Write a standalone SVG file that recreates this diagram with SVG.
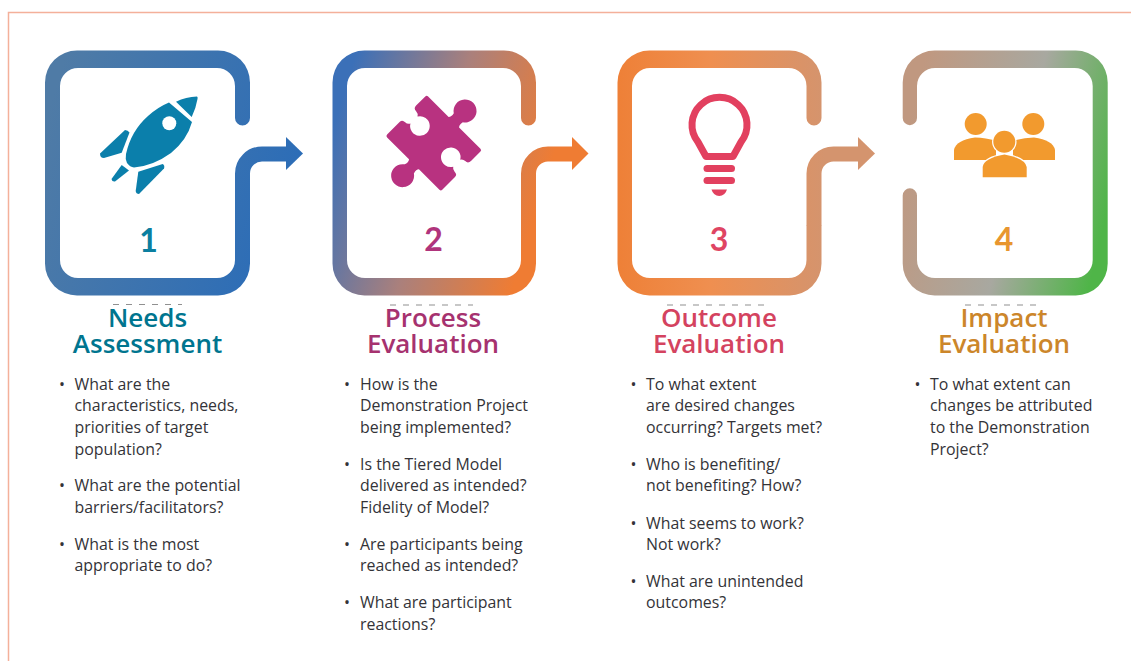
<svg xmlns="http://www.w3.org/2000/svg" width="1131" height="661" viewBox="0 0 1131 661">
<style>
.conn{fill:none;stroke-width:15}
.t{font-family:"Open Sans","Noto Sans","Liberation Sans",sans-serif;font-size:26px;font-weight:600;text-anchor:middle}
.n{font-family:"Lato","Open Sans","Liberation Sans",sans-serif;font-size:32px;font-weight:700;text-anchor:middle}
.b{font-family:"Open Sans","Noto Sans","Liberation Sans",sans-serif;font-size:15.9px;fill:#333338}
.speck{fill:none;stroke:#222;stroke-width:1;stroke-dasharray:6 7;stroke-opacity:.5}
</style>
<defs>
<linearGradient id="g1" gradientUnits="userSpaceOnUse" x1="45" y1="120" x2="305" y2="200"><stop offset="0" stop-color="#4f7ba6"/><stop offset="1" stop-color="#2a6cb8"/></linearGradient>
<linearGradient id="g2" gradientUnits="userSpaceOnUse" x1="335" y1="120" x2="545" y2="185"><stop offset="0" stop-color="#3b70b8"/><stop offset=".5" stop-color="#aa807c"/><stop offset="1" stop-color="#ef7c33"/></linearGradient>
<linearGradient id="g3" gradientUnits="userSpaceOnUse" x1="617" y1="170" x2="825" y2="170"><stop offset="0" stop-color="#ee8037"/><stop offset=".45" stop-color="#ef8f50"/><stop offset="1" stop-color="#d4946e"/></linearGradient>
<linearGradient id="g4" gradientUnits="userSpaceOnUse" x1="902" y1="150" x2="1110" y2="200"><stop offset="0" stop-color="#c09880"/><stop offset=".55" stop-color="#a8a8a0"/><stop offset="1" stop-color="#4fb548"/></linearGradient>
</defs>
<rect width="1131" height="661" fill="#fff"/>
<path d="M1131,12.500H8.500V661" fill="none" stroke="#f4b09a" stroke-width="1.500"/>

<g id="connectors">
<path class="conn" stroke="url(#g1)" d="M242.500,225.500V173.500A19.500,19.500 0 0 1 262,154H288"/><polygon fill="url(#g1)" points="286,137 303,153.500 286,170"/>
<path class="conn" stroke="url(#g2)" d="M528.500,225.500V173.500A19.500,19.500 0 0 1 548,154H574"/><polygon fill="url(#g2)" points="572,137 588.500,153.500 572,170"/>
<path class="conn" stroke="url(#g3)" d="M814,225.500V173.500A19.500,19.500 0 0 1 833.500,154H860"/><polygon fill="url(#g3)" points="858,137 875,153.500 858,170"/>
</g>

<g id="node1">
<path fill="url(#g1)" d="M235,118V86A18,18 0 0 0 217,68H78A18,18 0 0 0 60,86V260A18,18 0 0 0 78,278H217A18,18 0 0 0 235,260V225H250V263.500A32,32 0 0 1 218,295.500H77A32,32 0 0 1 45,263.500V82.500A32,32 0 0 1 77,50.500H218A32,32 0 0 1 250,82.500V118A7.500,7.500 0 0 1 235,118Z"/>
<g fill="#0b7fab">
<path d="M169,102.500L192,122Q187,140 171,153Q153,166 134,167.500Q130,167 127,163Q125,159 126,154Q131,131 148,116Q158,107 169,102.500Z"/>
<path d="M176,101.700Q186,97 197,96.500Q198,97 197.500,99Q196,108 191.700,117Z"/>
<path d="M125,130Q128,130 129.500,132.500L121.700,152.700L104,158Q100,158 100,153.500Z"/>
<path d="M121.700,165L129,170.500L115,181.500Q112,182 111.500,179Z"/>
<path d="M162.700,164Q165,165 164,168.500L139,194Q136,194 135.700,191L138.300,171.700Z"/>
</g>
<circle cx="169.300" cy="123.300" r="7" fill="#fff"/>
<text class="n" x="148.500" y="251.500" fill="#0b7fa0">1</text>
<path class="speck" d="M113,304.500H182"/>
<text class="t" x="147.500" y="327" fill="#00758f">Needs</text>
<text class="t" x="147.500" y="353" fill="#00758f">Assessment</text>
<text class="b" x="59" y="389.500">•</text><text class="b" x="74.500" y="389.500">What are the</text>
<text class="b" x="74.500" y="411">characteristics, needs,</text>
<text class="b" x="74.500" y="433">priorities of target</text>
<text class="b" x="74.500" y="454.500">population?</text>
<text class="b" x="59" y="491">•</text><text class="b" x="74.500" y="491">What are the potential</text>
<text class="b" x="74.500" y="512.500">barriers/facilitators?</text>
<text class="b" x="59" y="550">•</text><text class="b" x="74.500" y="550">What is the most</text>
<text class="b" x="74.500" y="571">appropriate to do?</text>
</g>

<g id="node2">
<path fill="url(#g2)" d="M521,118V86A18,18 0 0 0 503,68H365A18,18 0 0 0 347,86V260A18,18 0 0 0 365,278H503A18,18 0 0 0 521,260V225H536V263.500A32,32 0 0 1 504,295.500H364.500A32,32 0 0 1 332.500,263.500V82.500A32,32 0 0 1 364.500,50.500H504A32,32 0 0 1 536,82.500V118A7.500,7.500 0 0 1 521,118Z"/>
<path transform="translate(426.700,95) rotate(45)" fill="#b83280" d="M2,0H31Q33,-2 32,-6.300A11.500,11.500 0 1 1 44.800,-6.300Q43.800,-2 45.800,0H76Q78,0 78,2V15Q78,19.500 74,19.500Q71,19.500 69.500,22A9.800,9.800 0 1 0 69.500,32Q71,34.500 74,34.500Q78,34.500 78,38V56Q78,58 76,58H47Q45,60 46.400,64.500A11.500,11.500 0 1 1 33.600,64.500Q35,60 33,58H2Q0,58 0,56V38Q0,34.500 4,34.500Q7,34.500 8.700,31.700A9.800,9.800 0 1 0 8.700,21.700Q7,19 4,19Q0,19 0,15V2Q0,0 2,0Z"/>
<text class="n" x="433.500" y="251" fill="#b0347c">2</text>
<path class="speck" d="M390,305H473"/>
<text class="t" x="433" y="327" fill="#a6326f">Process</text>
<text class="t" x="433" y="353" fill="#a6326f">Evaluation</text>
<text class="b" x="344" y="389.500">•</text><text class="b" x="360" y="389.500">How is the</text>
<text class="b" x="360" y="411">Demonstration Project</text>
<text class="b" x="360" y="433">being implemented?</text>
<text class="b" x="344" y="469.500">•</text><text class="b" x="360" y="469.500">Is the Tiered Model</text>
<text class="b" x="360" y="491">delivered as intended?</text>
<text class="b" x="360" y="512.500">Fidelity of Model?</text>
<text class="b" x="344" y="550">•</text><text class="b" x="360" y="550">Are participants being</text>
<text class="b" x="360" y="571">reached as intended?</text>
<text class="b" x="344" y="608">•</text><text class="b" x="360" y="608">What are participant</text>
<text class="b" x="360" y="629.500">reactions?</text>
</g>

<g id="node3">
<path fill="url(#g3)" d="M806.500,118V86A18,18 0 0 0 788.500,68H650A18,18 0 0 0 632,86V260A18,18 0 0 0 650,278H788.500A18,18 0 0 0 806.500,260V225H821.500V263.500A32,32 0 0 1 789.500,295.500H649.500A32,32 0 0 1 617.500,263.500V82.500A32,32 0 0 1 649.500,50.500H789.500A32,32 0 0 1 821.500,82.500V118A7.500,7.500 0 0 1 806.500,118Z"/>
<path d="M706,156.500L698,142A27.500,27.500 0 1 1 741,142L733,156.500Z" fill="none" stroke="#e2405f" stroke-width="7" stroke-linejoin="round"/>
<g fill="#e2405f">
<rect x="703.500" y="165" width="31.500" height="7" rx="3.500"/>
<rect x="703.500" y="177" width="31.500" height="7" rx="3.500"/>
<path d="M711.500,189.500H727Q725,196 719.200,196Q713.500,196 711.500,189.500Z"/>
</g>
<text class="n" x="719" y="251" fill="#df4563">3</text>
<path class="speck" d="M667,305H767"/>
<text class="t" x="719" y="327" fill="#d4435f">Outcome</text>
<text class="t" x="719" y="353" fill="#d4435f">Evaluation</text>
<text class="b" x="630.500" y="389.500">•</text><text class="b" x="646" y="389.500">To what extent</text>
<text class="b" x="646" y="411">are desired changes</text>
<text class="b" x="646" y="433">occurring? Targets met?</text>
<text class="b" x="630.500" y="469.500">•</text><text class="b" x="646" y="469.500">Who is benefiting/</text>
<text class="b" x="646" y="491">not benefiting? How?</text>
<text class="b" x="630.500" y="528.500">•</text><text class="b" x="646" y="528.500">What seems to work?</text>
<text class="b" x="646" y="550">Not work?</text>
<text class="b" x="630.500" y="586.500">•</text><text class="b" x="646" y="586.500">What are unintended</text>
<text class="b" x="646" y="608">outcomes?</text>
</g>

<g id="node4">
<path fill="url(#g4)" d="M917,118V86A18,18 0 0 1 935,68H1074.700A18,18 0 0 1 1092.700,86V260A18,18 0 0 1 1074.700,278H935A18,18 0 0 1 917,260V195.500A7.150,7.150 0 0 0 902.700,195.500V263.500A32,32 0 0 0 934.700,295.500H1075.700A32,32 0 0 0 1107.700,263.500V82.500A32,32 0 0 0 1075.700,50.500H934.700A32,32 0 0 0 902.700,82.500V118A7.150,7.150 0 0 0 917,118Z"/>
<g fill="#f29a2e">
<circle cx="975.700" cy="124" r="11"/><circle cx="1033.300" cy="124" r="11"/>
<path d="M954,160V150Q956,140 975,137.500Q986,137.500 996,141V160Z"/>
<path d="M1055,160V150Q1053,140 1034,137.500Q1023,137.500 1013,141V160Z"/>
<g stroke="#fff" stroke-width="2.500" paint-order="stroke">
<path d="M982.700,177.300V167Q984,158 1004.500,154.500Q1025,158 1026.700,167V177.300Z"/>
<circle cx="1004.300" cy="141.700" r="11"/>
</g>
</g>
<text class="n" x="1004" y="251" fill="#e8962f">4</text>
<path class="speck" d="M965,305H1040"/>
<text class="t" x="1004" y="327" fill="#cc862a">Impact</text>
<text class="t" x="1004" y="353" fill="#cc862a">Evaluation</text>
<text class="b" x="914.500" y="389.500">•</text><text class="b" x="930" y="389.500">To what extent can</text>
<text class="b" x="930" y="411">changes be attributed</text>
<text class="b" x="930" y="433">to the Demonstration</text>
<text class="b" x="930" y="454.500">Project?</text>
</g>
</svg>
